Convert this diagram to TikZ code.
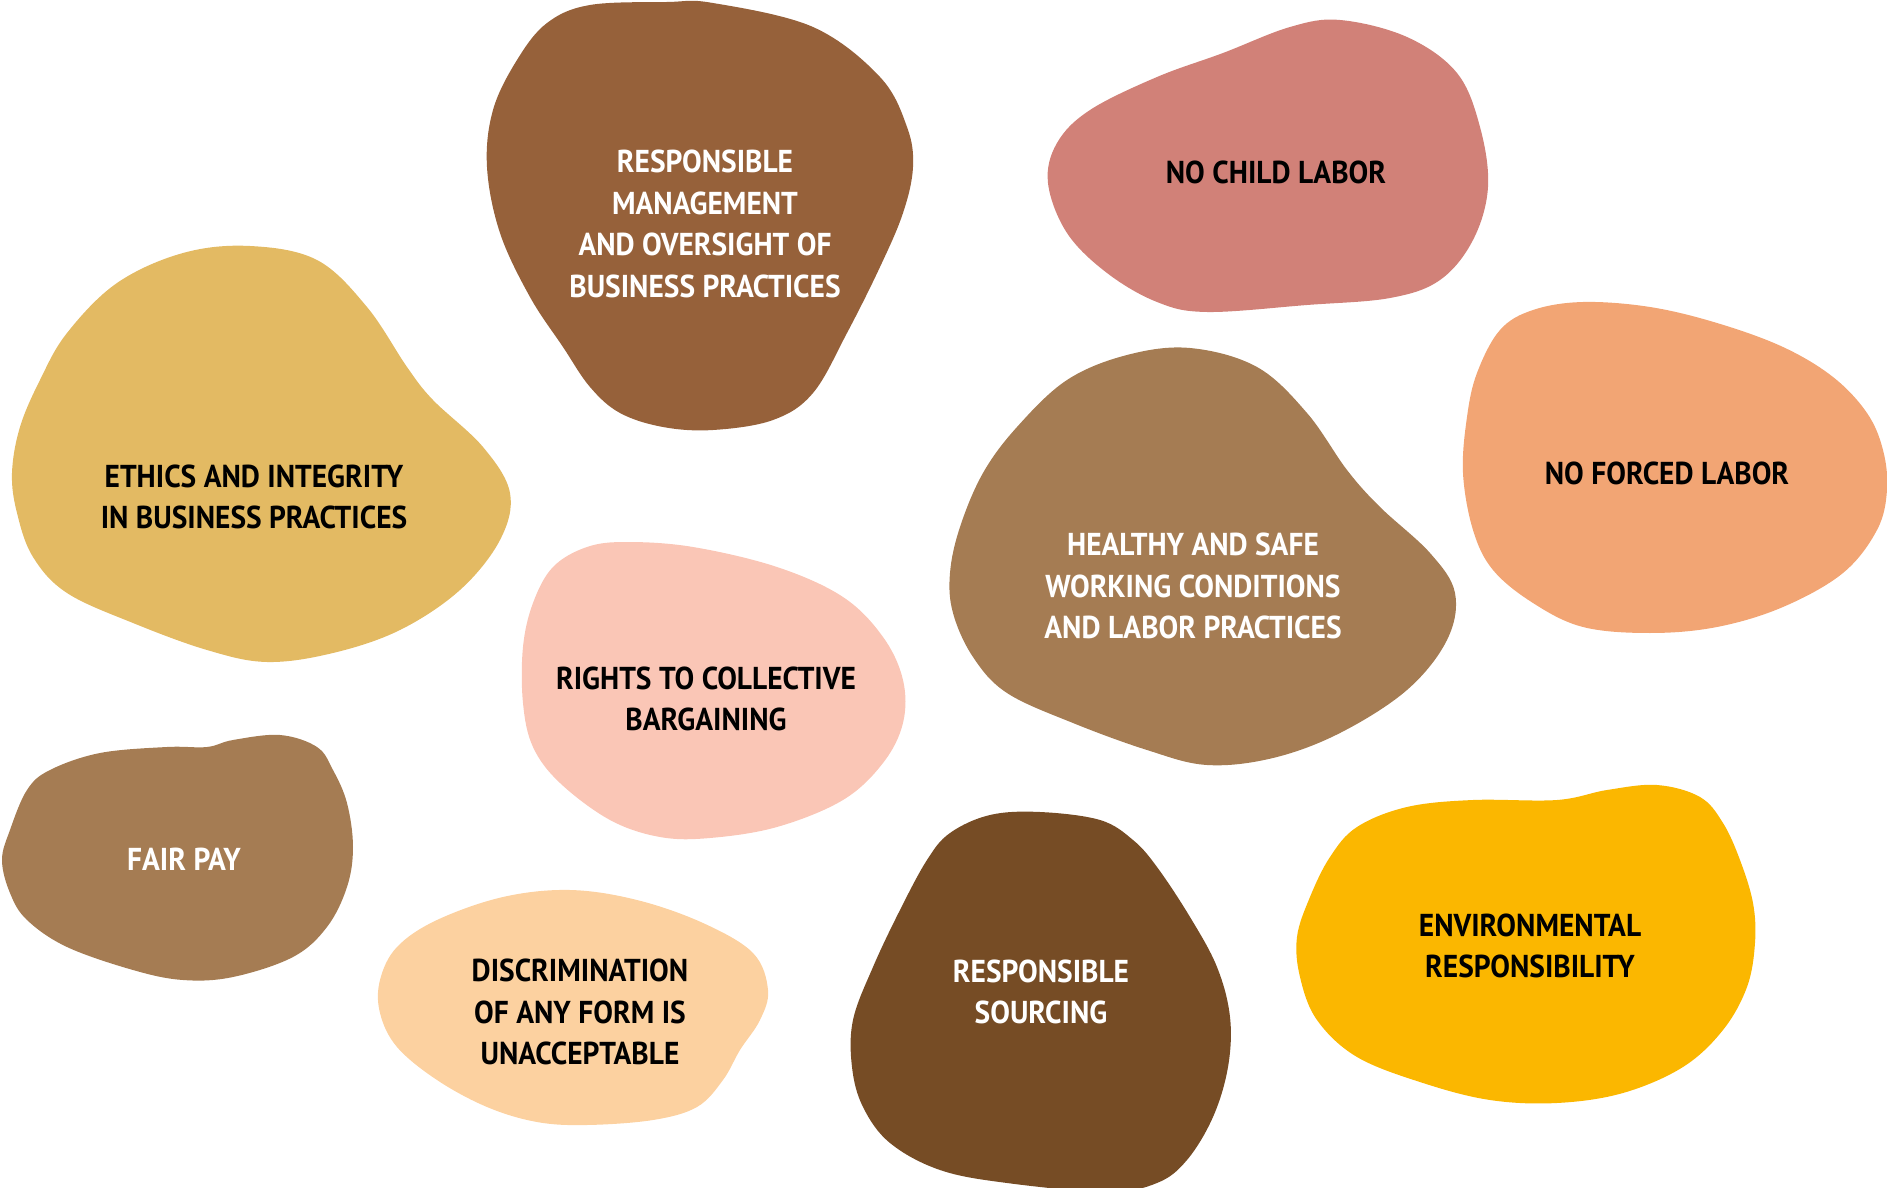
\documentclass[tikz,border=0pt]{standalone}
\usepackage{fontspec}
\newfontfamily\blobfont[FakeStretch=0.93]{PT Sans}
\usetikzlibrary{positioning}

\definecolor{mgmtbrown}{HTML}{96613A}
\definecolor{ethicsgold}{HTML}{E3BA63}
\definecolor{childrose}{HTML}{D18178}
\definecolor{midbrown}{HTML}{A57C53}
\definecolor{forcedpeach}{HTML}{F2A574}
\definecolor{rightspink}{HTML}{FAC6B6}
\definecolor{discsand}{HTML}{FCD1A0}
\definecolor{sourcebrown}{HTML}{764C25}
\definecolor{envyellow}{HTML}{FBB700}

\tikzset{x=0.01cm, y=-0.01cm,
  blob/.style={smooth cycle, tension=0.6},
  lbl/.style={font=\blobfont\bfseries\fontsize{9}{11.8}\selectfont, align=center, text=black},
  lightlbl/.style={lbl, text=white}}

\begin{document}
\begin{tikzpicture}
    \useasboundingbox (0,0) rectangle (1887,1188);
    % blobs
    \fill[mgmtbrown] plot[blob] coordinates {(590,5) (667,2) (713,3) (813,27) (880,77) (907,127) (913,167) (903,213) (880,267) (847,333) (813,393) (773,420) (713,430) (663,427) (620,413) (590,387) (563,347) (530,297) (500,233) (487,167) (493,110) (517,60) (547,23)};
    \fill[ethicsgold] plot[blob] coordinates {(250,246) (317,260) (367,307) (407,367) (433,400) (483,447) (510,493) (500,540) (460,590) (400,630) (333,653) (267,662) (207,650) (133,623) (67,593) (33,557) (17,513) (12,473) (20,427) (40,380) (67,333) (117,283) (183,253)};
    \fill[childrose] plot[blob] coordinates {(1340,20) (1407,37) (1457,73) (1480,127) (1488,187) (1473,240) (1440,280) (1390,298) (1307,305) (1207,312) (1157,302) (1107,273) (1067,233) (1048,183) (1057,143) (1090,110) (1157,77) (1223,53) (1290,27)};
    \fill[midbrown] plot[blob] coordinates {(1190,348) (1257,367) (1307,413) (1347,470) (1380,507) (1430,553) (1455,593) (1447,640) (1407,690) (1340,733) (1273,758) (1207,765) (1147,750) (1073,723) (1007,693) (973,657) (953,613) (950,573) (960,527) (983,473) (1017,427) (1067,380) (1127,355)};
    \fill[forcedpeach] plot[blob] coordinates {(1583,302) (1650,307) (1717,323) (1783,347) (1833,377) (1867,413) (1883,450) (1887,490) (1877,530) (1843,573) (1783,607) (1717,627) (1650,633) (1583,627) (1533,603) (1493,570) (1473,530) (1463,473) (1467,417) (1477,373) (1500,330) (1533,310)};
    \fill[rightspink] plot[blob] coordinates {(627,542) (693,547) (777,567) (843,597) (883,637) (903,680) (903,723) (883,763) (843,800) (777,827) (710,838) (660,837) (610,820) (560,783) (533,747) (523,703) (523,647) (533,603) (553,567) (587,547)};
    \fill[midbrown] plot[blob] coordinates {(280,735) (317,747) (333,770) (347,803) (353,847) (347,887) (327,927) (293,957) (233,977) (183,980) (133,970) (67,947) (27,920) (10,893) (2,860) (10,830) (27,790) (50,770) (100,753) (167,747) (207,747) (233,740)};
    \fill[discsand] plot[blob] coordinates {(570,890) (637,900) (703,923) (753,953) (768,990) (760,1020) (740,1050) (723,1080) (697,1107) (653,1120) (587,1125) (537,1122) (487,1107) (437,1080) (397,1047) (380,1013) (380,980) (397,947) (437,920) (503,897)};
    \fill[sourcebrown] plot[blob] coordinates {(1040,812) (1100,820) (1133,840) (1157,867) (1190,917) (1217,967) (1230,1017) (1228,1067) (1213,1117) (1187,1160) (1157,1183) (1107,1192) (1007,1183) (940,1170) (890,1143) (863,1107) (852,1067) (853,1020) (873,967) (900,910) (927,860) (950,833) (990,815)};
    \fill[envyellow] plot[blob] coordinates {(1657,785) (1700,797) (1723,823) (1740,860) (1753,903) (1755,943) (1747,987) (1723,1030) (1683,1067) (1623,1093) (1557,1103) (1490,1100) (1423,1083) (1357,1057) (1317,1020) (1300,977) (1297,937) (1310,897) (1330,857) (1357,827) (1407,807) (1473,800) (1557,800) (1607,790)};
    % labels
    \node[lightlbl] (mgmt) at (705,224) {RESPONSIBLE\\MANAGEMENT\\AND OVERSIGHT OF\\BUSINESS PRACTICES};
    \node[lbl] (ethics) at (254,497) {ETHICS AND INTEGRITY\\IN BUSINESS PRACTICES};
    \node[lbl] (child) at (1276,172) {NO CHILD LABOR};
    \node[lightlbl] (safety) at (1193,586) {HEALTHY AND SAFE\\WORKING CONDITIONS\\AND LABOR PRACTICES};
    \node[lbl] (forced) at (1667,473) {NO FORCED LABOR};
    \node[lbl] (rights) at (706,699) {RIGHTS TO COLLECTIVE\\BARGAINING};
    \node[lightlbl] (pay) at (184,859) {FAIR PAY};
    \node[lbl] (discrim) at (580,1012) {DISCRIMINATION\\OF ANY FORM IS\\UNACCEPTABLE};
    \node[lightlbl] (sourcing) at (1041,992) {RESPONSIBLE\\SOURCING};
    \node[lbl] (environ) at (1530,946) {ENVIRONMENTAL\\RESPONSIBILITY};
\end{tikzpicture}
\end{document}
